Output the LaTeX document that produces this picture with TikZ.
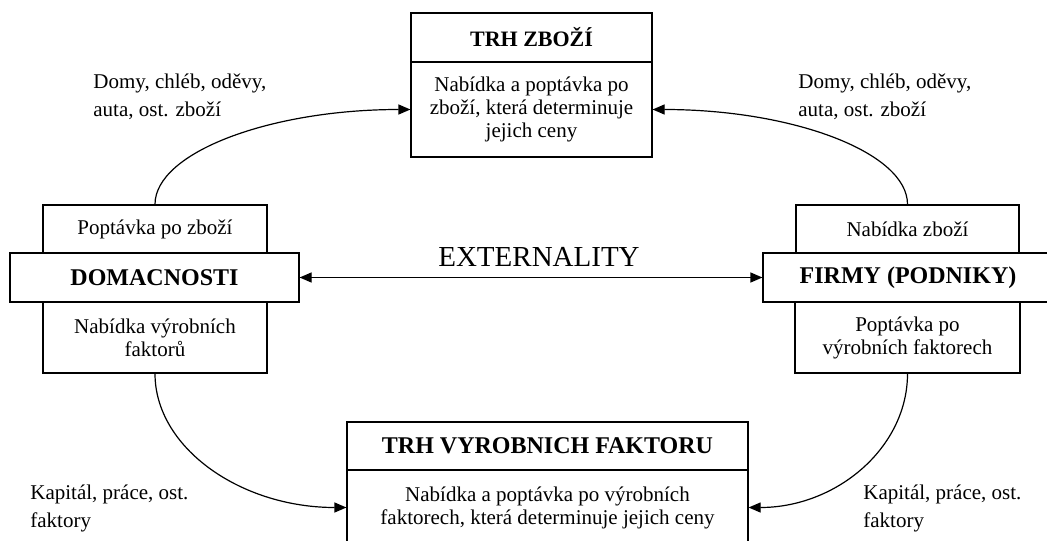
\documentclass[tikz,border=0pt]{standalone}
\usepackage{fontspec}
\setmainfont{Liberation Serif}
\usepackage[]{tikz}
\usetikzlibrary{arrows.meta}
\usetikzlibrary{positioning}
\tikzset{box/.style = {draw, rectangle, inner sep = 0, line width = 0.6pt, align = center, font = \fontsize{10.5}{11.5}\selectfont}}
\tikzset{hdr/.style = {box, font = \bfseries\fontsize{12}{14}\selectfont}}
\tikzset{lbl/.style = {align = left, inner sep = 0, font = \fontsize{10.5}{14}\selectfont}}
\tikzset{flow/.style = {line width = 0.6pt, -{Triangle[length = 6pt, width = 5pt]}}}
\tikzset{flowboth/.style = {line width = 0.6pt, {Triangle[length = 6pt, width = 5pt]}-{Triangle[length = 6pt, width = 5pt]}}}

\begin{document}
\begin{tikzpicture}[x = 0.5pt, y = -0.5pt]
            \clip (0,0) rectangle (1047,540);
            \node [hdr, minimum width = 120.5pt, minimum height = 24.5pt] (zbozihead) at (531.5,37.5) {\fontsize{11}{13}\selectfont TRH ZBOŽÍ};
            \node [box, minimum width = 120.5pt, minimum height = 47.5pt] (zbozibody) at (531.5,109.5) {Nabídka a poptávka po\\zboží, která determinuje\\jejich ceny};
            \node [box, minimum width = 112pt, minimum height = 24pt] (domtop) at (155,229) {Poptávka po zboží};
            \node [hdr, minimum width = 144.5pt, minimum height = 24.5pt] (dommid) at (154.5,277.5) {DOMACNOSTI};
            \node [box, minimum width = 112pt, minimum height = 35.5pt] (dombot) at (155,337.5) {Nabídka výrobních\\faktorů};
            \node [box, minimum width = 111.5pt, minimum height = 24pt] (firmytop) at (907.5,229) {Nabídka zboží};
            \node [hdr, minimum width = 145pt, minimum height = 24.5pt] (firmymid) at (908,277.5) {FIRMY (PODNIKY)};
            \node [box, minimum width = 112.5pt, minimum height = 35.5pt] (firmybot) at (907.5,337.5) {Poptávka po\\výrobních faktorech};
            \node [hdr, minimum width = 200.5pt, minimum height = 24pt] (vyrobhead) at (547.5,446) {TRH VYROBNICH FAKTORU};
            \node [box, minimum width = 200.5pt, minimum height = 37.5pt] (vyrobbody) at (547.5,507.5) {Nabídka a poptávka po výrobních\\faktorech, která determinuje jejich ceny};
            \node [font = \fontsize{14.5}{16}\selectfont] (ext) at (539,257) {EXTERNALITY};
            \draw [flowboth] (dommid.east) -- (firmymid.west);
            \draw [flow] (domtop.north) .. controls +(0,-52) and +(-140,0) .. (zbozibody.west);
            \draw [flow] (firmytop.north) .. controls +(0,-52) and +(140,0) .. (zbozibody.east);
            \draw [flow] (dombot.south) .. controls +(0,74) and +(-106,0) .. (vyrobbody.west);
            \draw [flow] (firmybot.south) .. controls +(0,74) and +(88,0) .. (vyrobbody.east);
            \node [lbl, anchor = west] (goodsl) at (93,97) {Domy, chléb, oděvy,\\auta, ost. zboží};
            \node [lbl, anchor = west] (goodsr) at (798,97) {Domy, chléb, oděvy,\\auta, ost. zboží};
            \node [lbl, anchor = west] (factl) at (30,508) {Kapitál, práce, ost.\\faktory};
            \node [lbl, anchor = west] (factr) at (863,508) {Kapitál, práce, ost.\\faktory};
        \end{tikzpicture}
\end{document}
